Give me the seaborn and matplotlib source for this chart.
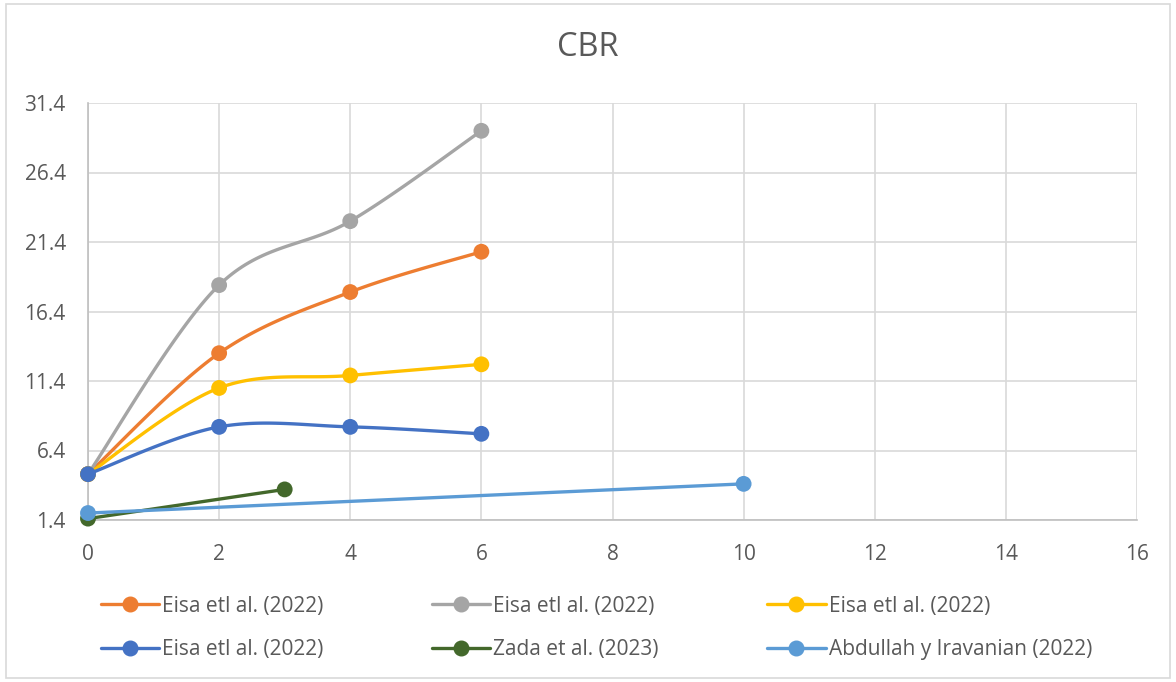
import numpy as np
import pandas as pd
import matplotlib
matplotlib.use("Agg")
import matplotlib.pyplot as plt
from matplotlib.lines import Line2D
from matplotlib.patches import Rectangle
import seaborn as sns

# Series data
labels = ["Eisa etl al. (2022)", "Eisa etl al. (2022)", "Eisa etl al. (2022)",
          "Eisa etl al. (2022)", "Zada et al. (2023)", "Abdullah y Iravanian (2022)"]
colors = ["#ED7D31", "#A5A5A5", "#FFC000", "#4472C4", "#43682B", "#5B9BD5"]

x_eisa = [0, 2, 4, 6]
y_eisa_1 = [4.7, 13.4, 17.8, 20.7]
y_eisa_2 = [4.7, 18.3, 22.9, 29.4]
y_eisa_3 = [4.7, 10.9, 11.8, 12.6]
y_eisa_4 = [4.7, 8.1, 8.1, 7.6]
x_zada = [0, 3]
y_zada = [1.5, 3.6]
x_abdullah = [0, 10]
y_abdullah = [1.9, 4.0]

series_x = [x_eisa, x_eisa, x_eisa, x_eisa, x_zada, x_abdullah]
series_y = [y_eisa_1, y_eisa_2, y_eisa_3, y_eisa_4, y_zada, y_abdullah]

x_ticks = [0, 2, 4, 6, 8, 10, 12, 14, 16]
y_ticks = [1.4, 6.4, 11.4, 16.4, 21.4, 26.4, 31.4]


def smooth(xs, ys, n=40):
    """Bezier smoothing through the points (Catmull-Rom style tangents)."""
    p = np.column_stack([xs, ys]).astype(float)
    if len(p) < 3:
        return p[:, 0], p[:, 1]
    pts = []
    for i in range(len(p) - 1):
        p0 = p[i - 1] if i > 0 else p[i]
        p1, p2 = p[i], p[i + 1]
        p3 = p[i + 2] if i + 2 < len(p) else p[i + 1]
        c1 = p1 + (p2 - p0) / 6.0
        c2 = p2 - (p3 - p1) / 6.0
        t = np.linspace(0, 1, n)[:, None]
        seg = ((1 - t) ** 3) * p1 + 3 * ((1 - t) ** 2) * t * c1 \
            + 3 * (1 - t) * t ** 2 * c2 + t ** 3 * p2
        pts.append(seg if i == 0 else seg[1:])
    pts = np.vstack(pts)
    return pts[:, 0], pts[:, 1]


sns.set_style("white")
plt.rcParams["font.family"] = ["Open Sans", "DejaVu Sans"]
text_color = "#595959"

fig = plt.figure(figsize=(11.76, 6.82), dpi=100)
ax = fig.add_axes([88 / 1176, 1 - 520 / 682, (1137 - 88) / 1176, (520 - 103) / 682])

for i, (xs, ys) in enumerate(zip(series_x, series_y)):
    sx, sy = smooth(xs, ys)
    curve = pd.DataFrame({"x": sx, "y": sy})
    sns.lineplot(data=curve, x="x", y="y", ax=ax, color=colors[i], lw=2.4,
                 sort=False, estimator=None, zorder=3 + i)
    pts = pd.DataFrame({"x": xs, "y": ys})
    sns.scatterplot(data=pts, x="x", y="y", ax=ax, color=colors[i], s=130,
                    edgecolor="none", zorder=3.5 + i, clip_on=False)

ax.set_xlim(0, 16)
ax.set_ylim(1.4, 31.4)
ax.set_xticks(x_ticks)
ax.set_yticks(y_ticks)
ax.set_yticklabels([f"{v:.1f}" for v in y_ticks])
ax.set_xlabel("")
ax.set_ylabel("")
ax.grid(True, color="#D9D9D9", lw=1.2)
ax.set_axisbelow(True)
for side in ["top", "right"]:
    ax.spines[side].set_visible(False)
for side in ["left", "bottom"]:
    ax.spines[side].set_color("#BFBFBF")
    ax.spines[side].set_linewidth(1.2)
ax.tick_params(axis="both", length=0, labelsize=15, colors=text_color)
ax.tick_params(axis="x", pad=17)
ax.tick_params(axis="y", pad=16)

fig.text(0.5, 1 - 47 / 682, "CBR", ha="center", va="center",
         fontsize=23.5, color=text_color)

# Legend laid out row by row (matplotlib fills columns first)
order = [0, 3, 1, 4, 2, 5]
handles = [Line2D([0], [0], color=c, lw=2.4, marker="o", markersize=10.5,
                  markeredgecolor=c) for c in colors]
fig.legend([handles[k] for k in order], [labels[k] for k in order],
           loc="center left", ncol=3,
           bbox_to_anchor=(82 / 1176, 1 - 628 / 682), frameon=False,
           fontsize=15, labelcolor=text_color, handlelength=2.8,
           handletextpad=0.15, columnspacing=5.2, labelspacing=1.1)

fig.patches.append(Rectangle((6 / 1176, 4 / 682), 1164 / 1176, 674 / 682,
                             transform=fig.transFigure, fill=False,
                             edgecolor="#D9D9D9", lw=1.2))

fig.savefig("out.png", dpi=100, facecolor="white")
